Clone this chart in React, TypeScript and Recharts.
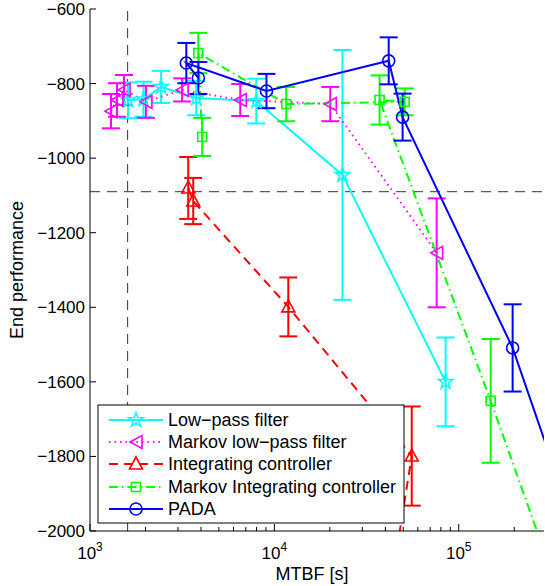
import React from 'react';
import { ComposedChart, Line, XAxis, YAxis, ErrorBar, ReferenceLine } from 'recharts';

const FONT = '"Liberation Sans", Arial, Helvetica, sans-serif';

const X_DOMAIN = [1000, 290000];
const Y_DOMAIN = [-2000, -600];

const xTicks = [
  1000, 2000, 3000, 4000, 5000, 6000, 7000, 8000, 9000,
  10000, 20000, 30000, 40000, 50000, 60000, 70000, 80000, 90000,
  100000, 200000,
];
const yTicks = [-2000, -1800, -1600, -1400, -1200, -1000, -800, -600];

// dashed guide lines
const mtbfGuide = 1600;
const perfGuide = -1090;

// Low-pass filter
const lpMtbf = [1610, 1950, 2430, 3770, 7980, 23400, 84900];
const lpPerf = [-845, -842, -809, -839, -847, -1045, -1600];
const lpErr = [48, 47, 43, 46, 60, 335, 119];

// Markov low-pass filter
const mlpMtbf = [1300, 1400, 1530, 2010, 3160, 6530, 20100, 75900];
const mlpPerf = [-874, -844, -817, -849, -817, -844, -855, -1254];
const mlpErr = [46, 45, 40, 43, 31, 43, 46, 146];

// Integrating controller (last point falls below the axis)
const icMtbf = [3410, 3630, 11900, 55600, 41700];
const icPerf = [-1080, -1115, -1399, -1799, -2185];
const icErr = [83, 62, 79, 133, 0];

// Markov Integrating controller (last point off the axes)
const micMtbf = [4060, 3870, 11600, 50900, 37200, 149000, 358000];
const micPerf = [-943, -718, -855, -849, -844, -1651, -2180];
const micErr = [51, 54, 46, 36, 66, 166, 0];

// PADA (last point off the axes)
const padaMtbf = [3870, 3330, 9060, 41700, 49600, 196000, 460000];
const padaPerf = [-785, -745, -820, -739, -890, -1509, -2040];
const padaErr = [43, 54, 46, 63, 63, 117, 0];

type MarkerKind = 'star' | 'left' | 'up' | 'square' | 'circle';

const SERIES = [
  { name: 'Low-pass filter', color: '#00ffff', dash: undefined, marker: 'star' as MarkerKind, xs: lpMtbf, ys: lpPerf, es: lpErr },
  { name: 'Markov low-pass filter', color: '#ff00ff', dash: '1.5 4', marker: 'left' as MarkerKind, xs: mlpMtbf, ys: mlpPerf, es: mlpErr },
  { name: 'Integrating controller', color: '#ff0000', dash: '9 6', marker: 'up' as MarkerKind, xs: icMtbf, ys: icPerf, es: icErr },
  { name: 'Markov Integrating controller', color: '#00ff00', dash: '9 4 1.5 4', marker: 'square' as MarkerKind, xs: micMtbf, ys: micPerf, es: micErr },
  { name: 'PADA', color: '#0000ff', dash: undefined, marker: 'circle' as MarkerKind, xs: padaMtbf, ys: padaPerf, es: padaErr },
];

function starPath(cx: number, cy: number, R: number) {
  const r = R * 0.4;
  let d = '';
  for (let i = 0; i < 10; i++) {
    const a = -Math.PI / 2 + (i * Math.PI) / 5;
    const rr = i % 2 === 0 ? R : r;
    d += (i === 0 ? 'M' : 'L') + (cx + rr * Math.cos(a)).toFixed(2) + ' ' + (cy + rr * Math.sin(a)).toFixed(2);
  }
  return d + 'Z';
}

function Marker({ kind, cx, cy, color }: { kind: MarkerKind; cx: number; cy: number; color: string }) {
  const common = { fill: 'none', stroke: color, strokeWidth: 1.6 };
  switch (kind) {
    case 'star':
      return <path d={starPath(cx, cy, 7.5)} {...common} />;
    case 'left':
      return <polygon points={`${cx - 6},${cy} ${cx + 6},${cy - 6.5} ${cx + 6},${cy + 6.5}`} {...common} />;
    case 'up':
      return <polygon points={`${cx},${cy - 7} ${cx - 6.5},${cy + 5} ${cx + 6.5},${cy + 5}`} {...common} />;
    case 'square':
      return <rect x={cx - 4.5} y={cy - 4.5} width={9} height={9} {...common} />;
    default:
      return <circle cx={cx} cy={cy} r={6} {...common} />;
  }
}

const isMajor = (v: number) => Math.abs(Math.log10(v) - Math.round(Math.log10(v))) < 1e-9;

function BottomTick(props: any) {
  const { x, y, payload } = props;
  const v = payload.value;
  const major = isMajor(v);
  return (
    <g>
      <line x1={x} x2={x} y1={y} y2={y - (major ? 7 : 4)} stroke="#000" strokeWidth={1} />
      {major && (
        <text x={x} y={y + 28} textAnchor="middle" fontSize={17} fontFamily={FONT} fill="#000">
          10
          <tspan dy={-8} fontSize={12}>{Math.round(Math.log10(v))}</tspan>
        </text>
      )}
    </g>
  );
}

function TopTick(props: any) {
  const { x, y, payload } = props;
  const major = isMajor(payload.value);
  return <line x1={x} x2={x} y1={y} y2={y + (major ? 7 : 4)} stroke="#000" strokeWidth={1} />;
}

function LeftTick(props: any) {
  const { x, y, payload } = props;
  return (
    <g>
      <line x1={x} x2={x + 6} y1={y} y2={y} stroke="#000" strokeWidth={1} />
      <text x={x - 5} y={y} dy="0.35em" textAnchor="end" fontSize={17} fontFamily={FONT} fill="#000">
        {String(payload.value).replace('-', '\u2212')}
      </text>
    </g>
  );
}

function RightTick(props: any) {
  const { x, y } = props;
  return <line x1={x} x2={x - 6} y1={y} y2={y} stroke="#000" strokeWidth={1} />;
}

function LegendBox() {
  const left = 98;
  const top = 405;
  const rows = [420, 442, 464, 487, 509];
  return (
    <g>
      <rect x={left} y={top} width={306} height={118} fill="#fff" stroke="#000" strokeWidth={1} />
      {SERIES.map((s, i) => (
        <g key={s.name}>
          <line x1={109} x2={163} y1={rows[i]} y2={rows[i]} stroke={s.color} strokeWidth={2} strokeDasharray={s.dash} />
          <Marker kind={s.marker} cx={136} cy={rows[i]} color={s.color} />
          <text x={168} y={rows[i]} dy="0.36em" fontSize={18} fontFamily={FONT} fill="#000">
            {s.name.replace('-', '\u2212')}
          </text>
        </g>
      ))}
    </g>
  );
}

export default function App() {
  return (
    <div style={{ position: 'absolute', left: 0, top: 0, width: 545, height: 586, background: '#fff' }}>
      <ComposedChart width={545} height={586} margin={{ top: 9, right: 1, bottom: 0, left: 0 }}>
        <XAxis
          xAxisId="bottom"
          dataKey="x"
          type="number"
          scale="log"
          domain={X_DOMAIN}
          allowDataOverflow
          ticks={xTicks}
          interval={0}
          height={55}
          tickSize={0}
          tickMargin={0}
          tick={<BottomTick />}
          axisLine={{ stroke: '#000' }}
          tickLine={false}
        />
        <XAxis
          xAxisId="top"
          orientation="top"
          dataKey="x"
          type="number"
          scale="log"
          domain={X_DOMAIN}
          allowDataOverflow
          ticks={xTicks}
          interval={0}
          height={0}
          tickSize={0}
          tickMargin={0}
          tick={<TopTick />}
          axisLine={{ stroke: '#000' }}
          tickLine={false}
        />
        <YAxis
          yAxisId="left"
          type="number"
          domain={Y_DOMAIN}
          allowDataOverflow
          ticks={yTicks}
          interval={0}
          width={90}
          tickSize={0}
          tickMargin={0}
          tick={<LeftTick />}
          axisLine={{ stroke: '#000' }}
          tickLine={false}
        />
        <YAxis
          yAxisId="right"
          orientation="right"
          type="number"
          domain={Y_DOMAIN}
          allowDataOverflow
          ticks={yTicks}
          interval={0}
          width={0}
          tickSize={0}
          tickMargin={0}
          tick={<RightTick />}
          axisLine={{ stroke: '#000' }}
          tickLine={false}
        />
        <ReferenceLine xAxisId="bottom" yAxisId="left" y={perfGuide} stroke="#333" strokeDasharray="10 7" strokeWidth={1} />
        <ReferenceLine xAxisId="bottom" yAxisId="left" x={mtbfGuide} stroke="#333" strokeDasharray="10 7" strokeWidth={1} />
        {SERIES.map((s) => (
          <Line
            key={s.name}
            xAxisId="bottom"
            yAxisId="left"
            data={s.xs.map((x, i) => ({ x, y: s.ys[i], err: s.es[i] }))}
            dataKey="y"
            name={s.name}
            stroke={s.color}
            strokeWidth={2}
            strokeDasharray={s.dash}
            isAnimationActive={false}
            activeDot={false}
            dot={(p: any) =>
              p.cx == null || p.cy == null ? (
                <g key={`${s.name}-${p.index}`} />
              ) : (
                <g key={`${s.name}-${p.index}`}>
                  <Marker kind={s.marker} cx={p.cx} cy={p.cy} color={s.color} />
                </g>
              )
            }
          >
            <ErrorBar dataKey="err" direction="y" width={9} stroke={s.color} strokeWidth={2} />
          </Line>
        ))}
      </ComposedChart>
      <svg width={545} height={586} style={{ position: 'absolute', left: 0, top: 0, pointerEvents: 'none' }}>
        <LegendBox />
        <text x={312} y={580} textAnchor="middle" fontSize={18} fontFamily={FONT} fill="#000">
          MTBF [s]
        </text>
        <text
          x={23}
          y={270}
          transform="rotate(-90 23 270)"
          textAnchor="middle"
          fontSize={18}
          fontFamily={FONT}
          fill="#000"
        >
          End performance
        </text>
      </svg>
    </div>
  );
}
